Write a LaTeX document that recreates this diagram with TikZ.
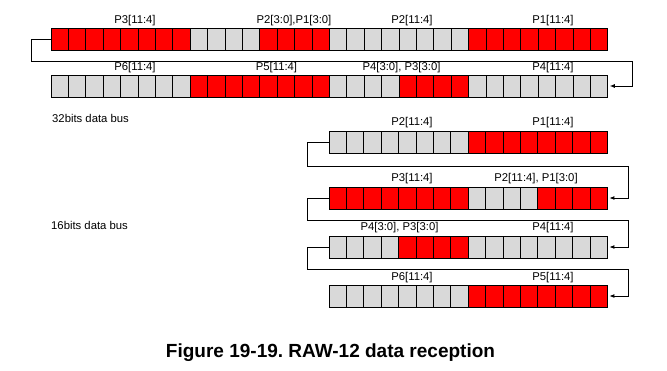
\documentclass[tikz,border=0pt]{standalone}
\usepackage{fontspec}
\setmainfont{Liberation Sans}
\usepackage{xcolor}
\usepackage{tikz}
\usetikzlibrary{arrows.meta, positioning, calc}

\definecolor{cellgray}{HTML}{D9D9D9}
\definecolor{cellred}{HTML}{FF0000}
\def\cellw{17.4}

% one register row: name, top-left corner, number of cells, red cell ranges (first/last)
\newcommand{\bitrow}[4]{%
  \node[row box, minimum width={#3*\cellw pt}, anchor=north west] (#1) at (#2) {};
  \foreach \i in {1,...,#3}
    \draw[gray cell] ([xshift={(\i-1)*\cellw pt}]#1.north west) rectangle ++(\cellw,22);
  \foreach \a/\b in {#4}
    \foreach \i in {\a,...,\b}
      \draw[red cell] ([xshift={\i*\cellw pt}]#1.north west) rectangle ++(\cellw,22);
}

\begin{document}
\begin{tikzpicture}[
    x=1pt, y=-1pt,
    % --- Styles ---
    row box/.style={inner sep=0pt, outer sep=0pt, minimum height=22pt},
    gray cell/.style={fill=cellgray, draw=black, line width=0.9pt},
    red cell/.style={fill=cellred, draw=black, line width=0.9pt},
    bit label/.style={inner sep=0pt, font=\fontsize{11.3}{13}\selectfont},
    bus label/.style={inner sep=0pt, anchor=west, font=\fontsize{11.3}{13}\selectfont},
    loop style/.style={-{Latex[length=5pt, width=4pt]}, line width=0.9pt}
]
    \useasboundingbox (0,0) rectangle (667,370);

    %% --- 32 BITS BUS ---
    \bitrow{r1}{51,28}{32}{0/7,12/15,24/31}
    \bitrow{r2}{51,75}{32}{8/15,20/23}

    \node[bit label] (r1-a) at (135,21) {P3[11:4]};
    \node[bit label] (r1-b) at (294,21) {P2[3:0],P1[3:0]};
    \node[bit label] (r1-c) at (412,21) {P2[11:4]};
    \node[bit label] (r1-d) at (553,21) {P1[11:4]};

    \node[bit label] (r2-a) at (135,68) {P6[11:4]};
    \node[bit label] (r2-b) at (276.5,68) {P5[11:4]};
    \node[bit label] (r2-c) at (401.5,68) {P4[3:0], P3[3:0]};
    \node[bit label] (r2-d) at (553,68) {P4[11:4]};

    % wrap-around from first word to second word
    \draw[loop style] (r1.west) -- ++(-20,0) -- ++(0,22) -| ([xshift=25pt]r2.east) -- ([xshift=2pt]r2.east);

    \node[bus label] (bus32) at (52,118) {32bits data bus};
    \node[bus label] (bus16) at (51,225) {16bits data bus};

    %% --- 16 BITS BUS ---
    \bitrow{ra}{329,131}{16}{8/15}
    \bitrow{rb}{329,187}{16}{0/7,12/15}
    \bitrow{rc}{329,236}{16}{4/7}
    \bitrow{rd}{329,285}{16}{8/15}

    \node[bit label] (ra-a) at (412,122.7) {P2[11:4]};
    \node[bit label] (ra-b) at (553,122.7) {P1[11:4]};
    \node[bit label] (rb-a) at (412,178.3) {P3[11:4]};
    \node[bit label] (rb-b) at (536,178.3) {P2[11:4], P1[3:0]};
    \node[bit label] (rc-a) at (399.5,227.3) {P4[3:0], P3[3:0]};
    \node[bit label] (rc-b) at (553,227.3) {P4[11:4]};
    \node[bit label] (rd-a) at (412,277.3) {P6[11:4]};
    \node[bit label] (rd-b) at (553,277.3) {P5[11:4]};

    \draw[loop style] (ra.west) -- ++(-22,0) -- ++(0,24.7) -| ([xshift=21pt]rb.east) -- ([xshift=2pt]rb.east);
    \draw[loop style] (rb.west) -- ++(-22,0) -- ++(0,22.7) -| ([xshift=21pt]rc.east) -- ([xshift=2pt]rc.east);
    \draw[loop style] (rc.west) -- ++(-22,0) -- ++(0,22.3) -| ([xshift=21pt]rd.east) -- ([xshift=2pt]rd.east);

    % caption
    \node[inner sep=0pt, font=\bfseries\fontsize{19}{22}\selectfont] (caption) at (330.5,353) {Figure 19-19.\ RAW-12 data reception};
\end{tikzpicture}
\end{document}
